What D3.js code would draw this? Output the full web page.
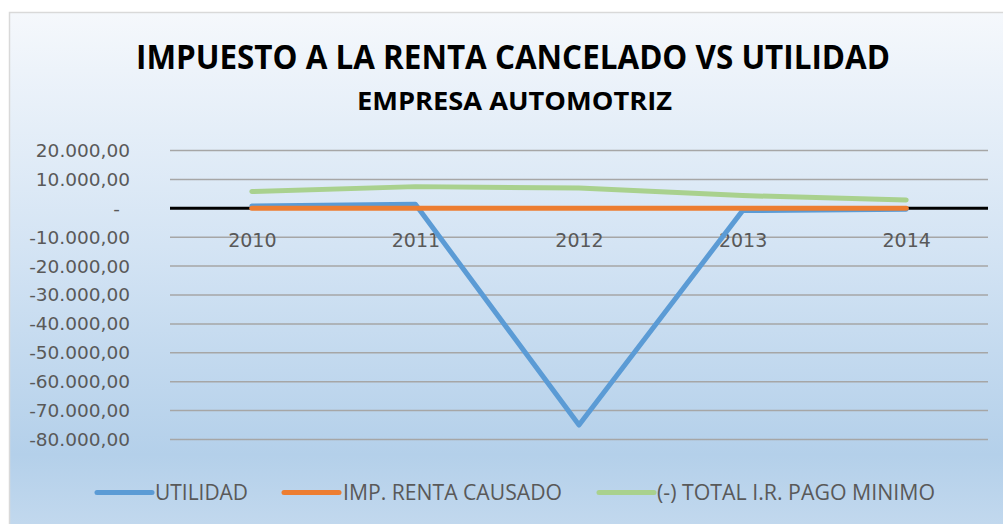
<!DOCTYPE html>
<html>
<head>
<meta charset="utf-8">
<script src="https://cdn.jsdelivr.net/npm/d3@7"></script>
<style>
  html, body { margin: 0; padding: 0; background: #fff; }
  svg { display: block; }
</style>
</head>
<body>
<div id="container"></div>
<script>
/* CONSTANTS AND GLOBALS */
const width = 1003,
  height = 524;

const years = ["2010", "2011", "2012", "2013", "2014"];
const utilidad = [800, 1400, -75000, -800, -300];
const impRenta = [0, 0, 0, 0, 0];
const pagoMinimo = [5800, 7500, 7000, 4400, 2900];
const yTicks = [20000, 10000, 0, -10000, -20000, -30000, -40000, -50000, -60000, -70000, -80000];

const series = [
  {name: "UTILIDAD", values: utilidad, color: "#5b9bd5"},
  {name: "IMP. RENTA CAUSADO", values: impRenta, color: "#ed7d31"},
  {name: "(-) TOTAL I.R. PAGO MINIMO", values: pagoMinimo, color: "#a9d18e"},
];

const svg = d3.select("#container")
  .append("svg")
  .attr("width", width)
  .attr("height", height);

// background gradient
const grad = svg.append("defs").append("linearGradient")
  .attr("id", "bg")
  .attr("x1", 0).attr("y1", 0).attr("x2", 0).attr("y2", 1);
[["0%", "#f5f8fc"], ["45%", "#d4e4f4"], ["85%", "#b4d0ea"], ["100%", "#c3d9ee"]]
  .forEach(s => grad.append("stop").attr("offset", s[0]).attr("stop-color", s[1]));

svg.append("rect")
  .attr("x", 9.5).attr("y", 12.5)
  .attr("width", 1000).attr("height", 520)
  .attr("fill", "url(#bg)")
  .attr("stroke", "#d9d9d9")
  .attr("stroke-width", 1.5);

// titles
svg.append("text")
  .attr("x", 513).attr("y", 69)
  .attr("text-anchor", "middle")
  .attr("textLength", 754).attr("lengthAdjust", "spacingAndGlyphs")
  .style("font-family", "'Open Sans', sans-serif")
  .style("font-weight", "bold")
  .style("font-size", "34px")
  .style("fill", "#000")
  .text("IMPUESTO A LA RENTA CANCELADO VS UTILIDAD");

svg.append("text")
  .attr("x", 514.5).attr("y", 110)
  .attr("text-anchor", "middle")
  .attr("textLength", 315).attr("lengthAdjust", "spacingAndGlyphs")
  .style("font-family", "'Open Sans', sans-serif")
  .style("font-weight", "bold")
  .style("font-size", "25px")
  .style("fill", "#000")
  .text("EMPRESA AUTOMOTRIZ");

/* SCALES */
const plotLeft = 170, plotRight = 988;
const xScale = d3.scalePoint()
  .domain(years)
  .range([plotLeft, plotRight])
  .padding(0.5);

const yScale = d3.scaleLinear()
  .domain([-80000, 20000])
  .range([439.5, 150.5]);

const fmt = v => v === 0 ? "-" :
  d3.format(",.2f")(v).replace(/,/g, "#").replace(/\./g, ",").replace(/#/g, ".").replace("−", "-");

// gridlines
svg.append("g")
  .selectAll("line")
  .data(yTicks.filter(t => t !== 0))
  .join("line")
  .attr("x1", plotLeft).attr("x2", plotRight)
  .attr("y1", d => yScale(d)).attr("y2", d => yScale(d))
  .attr("stroke", "#a6a6a6")
  .attr("stroke-width", 1.5);

// y axis labels
const yAxis = d3.axisLeft(yScale)
  .tickValues(yTicks)
  .tickFormat(fmt)
  .tickSize(0)
  .tickPadding(0);
const gy = svg.append("g")
  .attr("transform", "translate(130,0)")
  .call(yAxis);
gy.select(".domain").remove();
gy.selectAll("text")
  .style("font-family", "'DejaVu Sans', sans-serif")
  .style("font-size", "18.5px")
  .style("fill", "#595959")
  .attr("dx", d => d === 0 ? -10 : 0);

// x axis labels (drawn below zero line)
const xAxis = d3.axisBottom(xScale).tickSize(0).tickPadding(0);
const gx = svg.append("g")
  .attr("transform", `translate(0, ${yScale(0)})`)
  .call(xAxis);
gx.select(".domain").remove();
gx.selectAll("text")
  .attr("dy", null)
  .attr("y", 39)
  .style("font-family", "'DejaVu Sans', sans-serif")
  .style("font-size", "19px")
  .style("fill", "#595959");

// zero line
svg.append("line")
  .attr("x1", plotLeft).attr("x2", plotRight)
  .attr("y1", yScale(0)).attr("y2", yScale(0))
  .attr("stroke", "#000")
  .attr("stroke-width", 3);

/* LINES */
const line = d3.line()
  .x((d, i) => xScale(years[i]))
  .y(d => yScale(d));

series.forEach(s => {
  svg.append("path")
    .datum(s.values)
    .attr("d", line)
    .attr("fill", "none")
    .attr("stroke", s.color)
    .attr("stroke-width", 5)
    .attr("stroke-linecap", "round")
    .attr("stroke-linejoin", "round");
});

/* LEGEND */
const legendPos = [
  {x1: 97, x2: 152, tx: 155, tl: 93},
  {x1: 284, x2: 339, tx: 343, tl: 219},
  {x1: 599, x2: 654, tx: 657, tl: 278},
];
series.forEach((s, i) => {
  const p = legendPos[i];
  svg.append("line")
    .attr("x1", p.x1).attr("x2", p.x2)
    .attr("y1", 492.5).attr("y2", 492.5)
    .attr("stroke", s.color)
    .attr("stroke-width", 5)
    .attr("stroke-linecap", "round");
  svg.append("text")
    .attr("x", p.tx).attr("y", 500)
    .attr("textLength", p.tl).attr("lengthAdjust", "spacingAndGlyphs")
    .style("font-family", "'Open Sans', sans-serif")
    .style("font-size", "21px")
    .style("fill", "#595959")
    .text(s.name);
});
</script>
</body>
</html>
